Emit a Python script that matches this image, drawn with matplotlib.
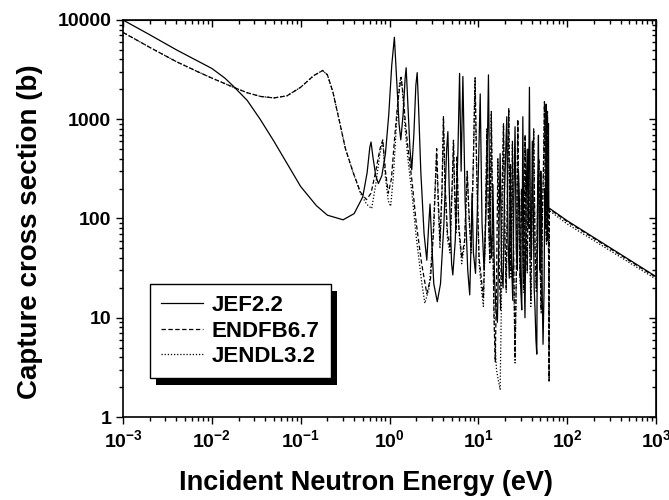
import numpy as np
import matplotlib
matplotlib.use("Agg")
import matplotlib.pyplot as plt
from matplotlib.patches import Rectangle
from matplotlib.transforms import IdentityTransform
from matplotlib.ticker import FuncFormatter, NullFormatter

# capture cross section (b) vs incident neutron energy (eV)
jef22 = [
    (0.001, 10000), (0.002, 7100), (0.004, 5000), (0.007, 3850), (0.01, 3250),
    (0.014, 2600), (0.0175, 2150), (0.025, 1550), (0.035, 1000), (0.05, 600),
    (0.07, 360), (0.1, 210), (0.15, 135), (0.2, 108), (0.3, 97), (0.4, 112),
    (0.5, 165), (0.56, 290), (0.6, 520), (0.62, 590), (0.65, 420), (0.7, 270),
    (0.75, 225), (0.82, 270), (0.9, 450), (0.98, 1100), (1.06, 3500), (1.135, 6700),
    (1.2, 2600), (1.28, 900), (1.34, 620), (1.42, 1100), (1.5, 2600), (1.54, 3300),
    (1.6, 1600), (1.7, 500), (1.78, 310), (1.88, 700), (1.98, 2200), (2.05, 2950),
    (2.12, 1400), (2.25, 300), (2.45, 70), (2.63, 38), (2.75, 80), (2.86, 140),
    (2.95, 75), (3.15, 22), (3.45, 14.5), (3.75, 22), (4.1, 90), (4.4, 500),
    (4.54, 750), (4.7, 200), (5.0, 35), (5.16, 27), (5.5, 60), (5.9, 500),
    (6.15, 2900), (6.4, 300), (6.7, 2700), (7.1, 150), (7.6, 30), (8.0, 17),
    (8.3, 60), (8.5, 180), (8.8, 45), (9.3, 28), (9.9, 200), (10.5, 1800),
    (11.0, 90), (11.6, 30), (12.2, 120), (12.7, 700), (13.0, 2800), (13.5, 90),
    (14.1, 40), (14.6, 220), (15.2, 25), (15.8, 12), (16.4, 9), (17.0, 60),
    (17.6, 450), (18.3, 30), (19.0, 20), (19.7, 180), (20.4, 500), (20.9, 1060),
    (21.6, 60), (22.3, 25), (23.0, 350), (23.6, 40), (24.4, 15), (25.2, 200),
    (25.9, 840), (26.7, 50), (27.5, 30), (28.3, 300), (29.2, 120), (30.0, 20),
    (30.8, 12), (31.7, 1060), (32.6, 40), (33.5, 10), (34.5, 150), (35.5, 500),
    (36.5, 80), (37.6, 2100), (38.6, 90), (39.5, 40), (40.5, 600), (41.5, 150),
    (42.5, 20), (43.5, 12), (44.5, 6), (45.5, 4.3), (46.5, 200), (47.5, 690),
    (48.5, 60), (49.5, 30), (50.5, 300), (51.5, 80), (52.5, 15), (53.5, 5.4),
    (55.0, 20), (56.0, 200), (57.0, 80), (58.0, 1420), (59.0, 150), (60.0, 60),
    (61.0, 300), (61.6, 910), (62.2, 128), (100, 95), (1000, 26),
]

endfb67 = [
    (0.001, 7500), (0.002, 5300), (0.004, 3800), (0.007, 3000), (0.01, 2600),
    (0.0175, 2100), (0.025, 1850), (0.035, 1700), (0.05, 1640), (0.07, 1720),
    (0.1, 2100), (0.14, 2750), (0.177, 3100), (0.2, 2800), (0.23, 1900),
    (0.27, 1000), (0.32, 500), (0.39, 290), (0.47, 185), (0.55, 155), (0.62, 180),
    (0.7, 300), (0.78, 500), (0.84, 620), (0.9, 300), (0.97, 180), (1.05, 250),
    (1.15, 700), (1.25, 1600), (1.35, 2650), (1.42, 1800), (1.5, 1000), (1.6, 550),
    (1.8, 230), (2.0, 90), (2.3, 35), (2.63, 17.5), (2.9, 25), (3.15, 80),
    (3.4, 505), (3.55, 150), (3.7, 60), (3.9, 200), (4.05, 1060), (4.2, 250),
    (4.5, 70), (4.8, 50), (5.1, 250), (5.25, 615), (5.4, 200), (5.6, 80),
    (5.75, 430), (6.0, 90), (6.5, 40), (7.0, 60), (7.5, 300), (7.9, 100),
    (8.3, 50), (8.8, 400), (9.2, 2620), (9.6, 300), (10.2, 40), (10.8, 25),
    (11.4, 15.5), (12.0, 80), (12.5, 800), (13.0, 100), (13.5, 40), (14.0, 1200),
    (14.6, 60), (15.0, 10), (15.5, 3.6), (16.0, 20), (16.6, 400), (17.2, 30),
    (17.8, 12), (18.5, 200), (19.2, 900), (19.9, 70), (20.6, 20), (21.4, 300),
    (22.0, 1300), (22.7, 80), (23.4, 30), (24.2, 600), (25.0, 40), (25.9, 4.1),
    (26.8, 30), (27.8, 1000), (28.7, 100), (29.6, 25), (30.6, 200), (31.6, 60),
    (32.6, 20), (33.6, 700), (34.6, 80), (35.6, 30), (36.6, 500), (37.8, 60),
    (39.0, 15), (40.5, 200), (42.0, 800), (43.5, 50), (45.0, 20), (46.5, 150),
    (48.0, 400), (49.5, 40), (51.0, 12), (52.5, 100), (54.0, 300), (55.5, 1500),
    (57.0, 120), (58.5, 60), (60.0, 1200), (61.0, 150), (62.0, 30), (62.6, 2.3),
    (63.0, 125), (100, 93), (1000, 25.5),
]

jendl32 = [
    (0.001, 7500), (0.002, 5300), (0.004, 3800), (0.007, 3000), (0.01, 2600),
    (0.0175, 2100), (0.025, 1850), (0.035, 1700), (0.05, 1640), (0.07, 1720),
    (0.1, 2100), (0.14, 2750), (0.177, 3100), (0.2, 2800), (0.23, 1900),
    (0.27, 1000), (0.32, 500), (0.39, 290), (0.47, 180), (0.55, 140), (0.63, 126),
    (0.7, 220), (0.78, 450), (0.84, 600), (0.9, 260), (0.97, 150), (1.03, 133),
    (1.1, 250), (1.2, 900), (1.3, 2400), (1.36, 2600), (1.42, 1600), (1.5, 800),
    (1.6, 420), (1.8, 170), (2.0, 65), (2.3, 23), (2.5, 14), (2.8, 20), (3.1, 70),
    (3.38, 450), (3.55, 120), (3.7, 50), (3.9, 180), (4.05, 1000), (4.2, 220),
    (4.5, 60), (4.8, 45), (5.1, 230), (5.25, 580), (5.4, 180), (5.6, 70),
    (5.75, 400), (6.0, 80), (6.5, 35), (7.0, 55), (7.5, 280), (7.9, 90),
    (8.3, 45), (8.8, 380), (9.15, 2500), (9.6, 250), (10.2, 35), (10.8, 20),
    (11.4, 13), (12.0, 70), (12.5, 750), (13.0, 90), (13.5, 35), (14.0, 1100),
    (14.6, 50), (15.2, 8), (16.0, 3), (17.0, 2.2), (17.6, 1.9), (18.2, 15),
    (18.7, 200), (19.2, 850), (19.9, 60), (20.6, 18), (21.4, 280), (22.0, 1200),
    (22.7, 70), (23.4, 25), (24.2, 550), (25.0, 30), (25.9, 3.5), (26.8, 25),
    (27.8, 950), (28.7, 90), (29.6, 22), (30.6, 180), (31.6, 55), (32.6, 18),
    (33.6, 650), (34.6, 70), (35.6, 28), (36.6, 450), (37.8, 55), (39.0, 13),
    (40.5, 180), (42.0, 750), (43.5, 45), (45.0, 18), (46.5, 140), (48.0, 380),
    (49.5, 35), (51.0, 11), (52.5, 90), (54.0, 280), (55.5, 1400), (57.0, 110),
    (58.5, 55), (60.0, 1100), (61.0, 140), (62.0, 28), (62.6, 2.4), (63.0, 120),
    (100, 88), (1000, 24.5),
]

labels = ['JEF2.2', 'ENDFB6.7', 'JENDL3.2']

plt.rcParams['font.family'] = ['Liberation Sans', 'DejaVu Sans']
plt.rcParams['font.weight'] = 'bold'
plt.rcParams['mathtext.fontset'] = 'custom'
plt.rcParams['mathtext.bf'] = 'Liberation Sans:bold'
plt.rcParams['mathtext.rm'] = 'Liberation Sans:bold'

fig = plt.figure(figsize=(6.69, 5.0), dpi=100)
ax = fig.add_axes([123/669, 1-417/500, 533/669, 397/500])

styles = ['-', (0, (3.5, 2)), (0, (1, 1.5))]
for data, lab, ls in zip([jef22, endfb67, jendl32], labels, styles):
    e = np.array([p[0] for p in data])
    xs = np.array([p[1] for p in data])
    ax.plot(e, xs, color='black', lw=0.9, ls=ls, label=lab)

ax.set_xscale('log')
ax.set_yscale('log')
ax.set_xlim(1e-3, 1e3)
ax.set_ylim(1, 1e4)

ax.xaxis.set_major_formatter(FuncFormatter(lambda v, p: r'$\mathbf{10^{%d}}$' % round(np.log10(v))))
ax.yaxis.set_major_formatter(FuncFormatter(lambda v, p: '%d' % round(v)))
ax.xaxis.set_minor_formatter(NullFormatter())
ax.yaxis.set_minor_formatter(NullFormatter())
ax.tick_params(which='both', direction='out', top=False, right=False, width=1, labelsize=14)
ax.tick_params(which='major', length=5)
ax.tick_params(which='minor', length=3)
for sp in ax.spines.values():
    sp.set_linewidth(1.2)

# top and right axes get inward ticks, no labels
secx = ax.secondary_xaxis('top')
secx.tick_params(axis='x', which='both', direction='in', width=1)
secx.tick_params(axis='x', which='major', length=5)
secx.tick_params(axis='x', which='minor', length=3)
secx.xaxis.set_major_formatter(NullFormatter())
secx.xaxis.set_minor_formatter(NullFormatter())
secy = ax.secondary_yaxis('right')
secy.tick_params(axis='y', which='both', direction='in', width=1)
secy.tick_params(axis='y', which='major', length=5)
secy.tick_params(axis='y', which='minor', length=3)
secy.yaxis.set_major_formatter(NullFormatter())
secy.yaxis.set_minor_formatter(NullFormatter())

ax.set_xlabel('Incident Neutron Energy (eV)', fontsize=19.5, fontweight='bold')
ax.set_ylabel('Capture cross section (b)', fontsize=20, fontweight='bold')
ax.xaxis.set_label_coords(0.456, -0.134)
ax.yaxis.set_label_coords(-0.150, 0.466)

leg = ax.legend(loc='lower left', bbox_to_anchor=(0.05, 0.098), borderaxespad=0,
                fancybox=False, framealpha=1, edgecolor='black',
                prop={'size': 16, 'weight': 'bold'}, handlelength=1.9,
                handletextpad=0.4, labelspacing=0.2, borderpad=0.5)
leg.get_frame().set_linewidth(1.0)

# drop shadow behind legend
fig.canvas.draw()
bb = leg.get_window_extent()
shadow = Rectangle((bb.x0 + 6, bb.y0 - 7), bb.width, bb.height, transform=IdentityTransform(),
                   facecolor='black', edgecolor='none', zorder=4.9, clip_on=False)
ax.add_artist(shadow)

fig.savefig('out.png', dpi=100)
